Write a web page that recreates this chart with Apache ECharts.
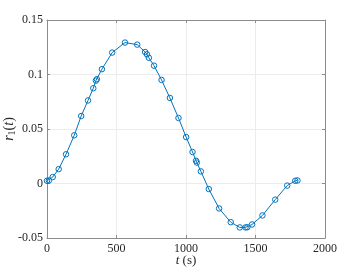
<!DOCTYPE html>
<html><head><meta charset="utf-8">
<script src="https://cdn.jsdelivr.net/npm/echarts@6/dist/echarts.min.js"></script>
<style>html,body{margin:0;padding:0;background:#fff}#c{width:360px;height:270px}</style>
</head><body><div id="c"></div>
<script>
const tValues = [0, 14, 41, 84, 137, 196, 246, 295, 333, 352, 359, 395, 469, 561, 649, 706, 719, 733, 770, 824, 884, 946, 1001, 1047, 1072, 1078, 1107, 1164, 1238, 1322, 1387, 1428, 1441, 1475, 1550, 1642, 1728, 1786, 1802];
const rValues = [0.0025, 0.0028, 0.0059, 0.0132, 0.0268, 0.0442, 0.0619, 0.0762, 0.0874, 0.0944, 0.0957, 0.1049, 0.1201, 0.1293, 0.1274, 0.1206, 0.1185, 0.1153, 0.1081, 0.0950, 0.0785, 0.0601, 0.0426, 0.0289, 0.0209, 0.0192, 0.0111, -0.0051, -0.0229, -0.0355, -0.0403, -0.0403, -0.0401, -0.0376, -0.0293, -0.0148, -0.0019, 0.0025, 0.0028];
const xTicks = [0, 500, 1000, 1500, 2000];
const yTicks = [-0.05, 0, 0.05, 0.1, 0.15];

const font = 'Liberation Serif';
const axisColor = '#8c8c8c';
const chart = echarts.init(document.getElementById('c'));
const baseX = {
  type: 'value', min: 0, max: 2000, interval: 500,
  axisLine: {show: true, onZero: false, lineStyle: {color: axisColor, width: 1}},
  axisTick: {show: true, inside: true, length: 3, lineStyle: {color: axisColor}},
  splitLine: {show: false}
};
const baseY = {
  type: 'value', min: -0.05, max: 0.15, interval: 0.05,
  axisLine: {show: true, onZero: false, lineStyle: {color: axisColor, width: 1}},
  axisTick: {show: true, inside: true, length: 3, lineStyle: {color: axisColor}},
  splitLine: {show: false}
};
chart.setOption({
  animation: false,
  grid: {left: 47, right: 35, top: 20, bottom: 32, containLabel: false, outerBoundsMode: 'none'},
  xAxis: [
    Object.assign({}, baseX, {
      position: 'bottom',
      splitLine: {show: true, lineStyle: {color: '#ececec', width: 1}},
      axisLabel: {color: '#262626', fontFamily: font, fontSize: 12, margin: 5,
        formatter: v => xTicks.includes(v) ? String(v) : ''},
      name: '{i|t} {n|(s)}', nameLocation: 'middle', nameGap: 16, nameMoveOverlap: false,
      nameTextStyle: {verticalAlign: 'top', rich: {
        i: {fontFamily: font, fontStyle: 'italic', fontSize: 13, color: '#262626'},
        n: {fontFamily: font, fontSize: 13, color: '#262626'}
      }}
    }),
    Object.assign({}, baseX, {position: 'top', axisLabel: {show: false}})
  ],
  yAxis: [
    Object.assign({}, baseY, {
      position: 'left',
      splitLine: {show: true, lineStyle: {color: '#ececec', width: 1}},
      axisLabel: {color: '#262626', fontFamily: font, fontSize: 12, margin: 4,
        formatter: v => { const r = Math.round(v * 100) / 100; return yTicks.some(t => Math.abs(t - r) < 1e-9) ? String(r) : ''; }},
      name: '{i|r}{s|1}{n|(}{i|t}{n|)}', nameLocation: 'middle', nameGap: 30, nameRotate: 90, nameMoveOverlap: false,
      nameTextStyle: {verticalAlign: 'bottom', rich: {
        i: {fontFamily: font, fontStyle: 'italic', fontSize: 14, color: '#262626'},
        s: {fontFamily: font, fontSize: 10, color: '#262626', padding: [6, 0, 0, 0]},
        n: {fontFamily: font, fontSize: 14, color: '#262626'}
      }}
    }),
    Object.assign({}, baseY, {position: 'right', axisLabel: {show: false}})
  ],
  series: [{
    type: 'line',
    data: tValues.map((t, i) => [t, rValues[i]]),
    xAxisIndex: 0, yAxisIndex: 0,
    symbol: 'circle', symbolSize: 5.5, showSymbol: true,
    lineStyle: {color: '#0072BD', width: 1},
    itemStyle: {color: 'rgba(0,0,0,0)', borderColor: '#0072BD', borderWidth: 1},
    emphasis: {disabled: true}
  }]
});
</script></body></html>
